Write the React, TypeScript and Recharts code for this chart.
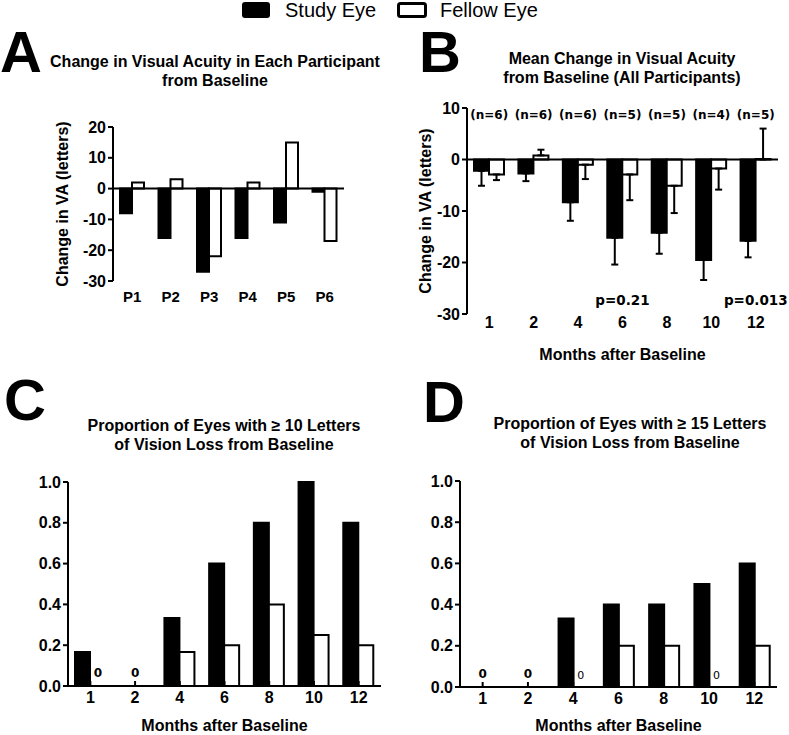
import { Bar, BarChart, ErrorBar, ReferenceLine, XAxis, YAxis } from "recharts";

const SERIES = ["Study Eye", "Fellow Eye"];

// panel A: each participant
const participants = ["P1", "P2", "P3", "P4", "P5", "P6"];
const participantStudy = [-8, -16, -27, -16, -11, -1];
const participantFellow = [2, 3, -22, 2, 15, -17];
const participantTicks = [-30, -20, -10, 0, 10, 20];

// panel B: mean change, one-sided SEM bars
const months = ["1", "2", "4", "6", "8", "10", "12"];
const nPerMonth = [6, 6, 6, 5, 5, 4, 5];
const meanStudy = [-2.2, -2.7, -8.3, -15.2, -14.2, -19.5, -15.8];
const meanStudyErr = [2.9, 1.5, 3.6, 5.2, 4.1, 3.9, 3.2];
const meanFellow = [-2.9, 0.8, -1.0, -2.9, -5.1, -1.75, 0];
const meanFellowErr = [1.1, 1.1, 2.8, 5.0, 5.3, 4.1, 6.0];
const pValues = ["", "", "", "p=0.21", "", "", "p=0.013"];
const meanTicks = [-30, -20, -10, 0, 10];

// panels C and D: proportions
const loss10Study = [0.167, 0, 0.333, 0.6, 0.8, 1.0, 0.8];
const loss10Fellow = [0, 0, 0.167, 0.2, 0.4, 0.25, 0.2];
const loss15Study = [0, 0, 0.333, 0.4, 0.4, 0.5, 0.6];
const loss15Fellow = [0, 0, 0, 0.2, 0.2, 0, 0.2];
const propTicks = [0, 0.2, 0.4, 0.6, 0.8, 1.0];

const BAR = 15;
const FONT = '"Liberation Sans", Arial, Helvetica, sans-serif';
const SMALL_FONT = '"DejaVu Sans", Verdana, sans-serif';
const tickStyle = { fill: "#000", fontSize: 16, fontWeight: 700, fontFamily: FONT };
const line = { stroke: "#000", strokeWidth: 2 };
const axisTitle = { fill: "#000", fontSize: 16, fontWeight: 700, fontFamily: FONT };

const yLabel = (offset: number) => ({
  value: "Change in VA (letters)",
  angle: -90,
  position: "insideLeft" as const,
  offset,
  ...axisTitle,
  style: { textAnchor: "middle" },
});

const monthsLabel = (offset: number) => ({
  value: "Months after Baseline",
  position: "insideBottom" as const,
  offset,
  ...axisTitle,
});

function PanelA() {
  const data = participants.map((p, i) => ({
    p,
    study: participantStudy[i],
    fellow: participantFellow[i],
  }));
  return (
    <div style={{ position: "absolute", left: 0, top: 100 }}>
      <BarChart
        width={360}
        height={215}
        data={data}
        margin={{ top: 27, right: 16, bottom: 0, left: 40 }}
        barGap={0}
        barSize={12}
      >
        <XAxis
          dataKey="p"
          height={34}
          axisLine={false}
          tickLine={false}
          tickSize={0}
          tickMargin={10}
          interval={0}
          tick={{ ...tickStyle, fontSize: 15 }}
        />
        <YAxis
          type="number"
          domain={[-30, 20]}
          ticks={participantTicks}
          interval={0}
          width={73}
          axisLine={line}
          tickLine={line}
          tickSize={5}
          tickMargin={2}
          tick={tickStyle}
          label={yLabel(22)}
        />
        <Bar dataKey="study" fill="#000" stroke="#000" strokeWidth={2} isAnimationActive={false} />
        <Bar dataKey="fellow" fill="#fff" stroke="#000" strokeWidth={2} isAnimationActive={false} />
        <ReferenceLine y={0} stroke="#000" strokeWidth={2} />
      </BarChart>
    </div>
  );
}

function NTick(props: any) {
  const { x, y, index } = props;
  return (
    <text x={x} y={y + 11} textAnchor="middle" fontFamily={SMALL_FONT} fontWeight={700} fontSize={12} fill="#000">
      {`(n=${nPerMonth[index]})`}
    </text>
  );
}

function MonthTick(props: any) {
  const { x, y, index, payload } = props;
  return (
    <g>
      {pValues[index] ? (
        <text x={x} y={y - 9} textAnchor="middle" fontFamily={SMALL_FONT} fontWeight={700} fontSize={13.5} fill="#000">
          {pValues[index]}
        </text>
      ) : null}
      <text x={x} y={y + 14} textAnchor="middle" {...tickStyle}>
        {payload.value}
      </text>
    </g>
  );
}

function PanelB() {
  const data = months.map((month, i) => ({
    month,
    study: meanStudy[i],
    fellow: meanFellow[i],
    studyErr: meanStudy[i] < 0 ? [meanStudyErr[i], 0] : [0, meanStudyErr[i]],
    fellowErr: meanFellow[i] < 0 ? [meanFellowErr[i], 0] : [0, meanFellowErr[i]],
  }));
  return (
    <div style={{ position: "absolute", left: 390, top: 90 }}>
      <BarChart
        width={399}
        height={275}
        data={data}
        margin={{ top: 0, right: 11, bottom: 0, left: 20 }}
        barGap={0}
        barSize={BAR}
      >
        <XAxis
          xAxisId="n"
          orientation="top"
          dataKey="month"
          height={18}
          axisLine={false}
          tickLine={false}
          tickSize={0}
          tickMargin={0}
          interval={0}
          tick={(p: any) => <NTick {...p} />}
        />
        <XAxis
          dataKey="month"
          height={51}
          axisLine={false}
          tickLine={false}
          tickSize={0}
          tickMargin={0}
          interval={0}
          tick={(p: any) => <MonthTick {...p} />}
          label={monthsLabel(5)}
        />
        <YAxis
          type="number"
          domain={[-30, 10]}
          ticks={meanTicks}
          interval={0}
          width={57}
          axisLine={line}
          tickLine={line}
          tickSize={5}
          tickMargin={2}
          tick={tickStyle}
          label={yLabel(15)}
        />
        <Bar dataKey="study" fill="#000" stroke="#000" strokeWidth={2} isAnimationActive={false}>
          <ErrorBar dataKey="studyErr" width={3.5} stroke="#000" strokeWidth={2} isAnimationActive={false} />
        </Bar>
        {/* minPointSize keeps the zero-mean bar at month 12 so its error bar is still drawn */}
        <Bar dataKey="fellow" fill="#fff" stroke="#000" strokeWidth={2} minPointSize={0.5} isAnimationActive={false}>
          <ErrorBar dataKey="fellowErr" width={3.5} stroke="#000" strokeWidth={2} isAnimationActive={false} />
        </Bar>
        <ReferenceLine y={0} stroke="#000" strokeWidth={2} />
      </BarChart>
    </div>
  );
}

type PropPanelProps = {
  left: number;
  top: number;
  width: number;
  marginLeft: number;
  marginTop: number;
  marginRight: number;
  yWidth: number;
  xHeight: number;
  labelOffset: number;
  study: number[];
  fellow: number[];
  thinFellowZero?: boolean;
};

function ProportionPanel(p: PropPanelProps) {
  const data = months.map((month, i) => ({ month, study: p.study[i], fellow: p.fellow[i] }));

  // month label + the "0" markers for empty bars (zero-height bars get no label from LabelList)
  const ZeroTick = (props: any) => {
    const { x, y, index, payload } = props;
    const s = p.study[index];
    const f = p.fellow[index];
    let zero = null;
    if (s === 0 && f === 0) {
      zero = (
        <text x={x} y={y - 15} textAnchor="middle" fontFamily={SMALL_FONT} fontWeight={700} fontSize={12} fill="#000">
          0
        </text>
      );
    } else if (f === 0) {
      zero = (
        <text
          x={x + BAR / 2}
          y={y - (p.thinFellowZero ? 14 : 15)}
          textAnchor="middle"
          fontFamily={SMALL_FONT}
          fontWeight={p.thinFellowZero ? 400 : 700}
          fontSize={p.thinFellowZero ? 11 : 12}
          fill="#000"
        >
          0
        </text>
      );
    }
    return (
      <g>
        {zero}
        <text x={x} y={y + 11} textAnchor="middle" {...tickStyle}>
          {payload.value}
        </text>
      </g>
    );
  };

  return (
    <div style={{ position: "absolute", left: p.left, top: p.top }}>
      <BarChart
        width={p.width}
        height={270}
        data={data}
        margin={{ top: p.marginTop, right: p.marginRight, bottom: 0, left: p.marginLeft }}
        barGap={0}
        barSize={BAR}
      >
        <XAxis
          dataKey="month"
          height={p.xHeight}
          axisLine={line}
          tickLine={line}
          tickSize={-5}
          tickMargin={11}
          interval={0}
          tick={(t: any) => <ZeroTick {...t} />}
          label={monthsLabel(p.labelOffset)}
        />
        <YAxis
          type="number"
          domain={[0, 1]}
          ticks={propTicks}
          interval={0}
          width={p.yWidth}
          axisLine={line}
          tickLine={line}
          tickSize={5}
          tickMargin={2}
          tick={tickStyle}
          tickFormatter={(v: number) => v.toFixed(1)}
        />
        <Bar dataKey="study" fill="#000" stroke="#000" strokeWidth={2} isAnimationActive={false} />
        <Bar dataKey="fellow" fill="#fff" stroke="#000" strokeWidth={2} isAnimationActive={false} />
      </BarChart>
    </div>
  );
}

function Title({ x, y, lines }: { x: number; y: number; lines: string[] }) {
  return (
    <text x={x} y={y} textAnchor="middle" fontFamily={FONT} fontWeight={700} fontSize={16} fill="#000">
      {lines.map((l, i) => (
        <tspan key={i} x={x} dy={i === 0 ? 0 : 19}>
          {l}
        </tspan>
      ))}
    </text>
  );
}

function Overlay() {
  const letter = { fontFamily: FONT, fontWeight: 700, fontSize: 58, fill: "#000" };
  return (
    <svg width={789} height={735} style={{ position: "absolute", left: 0, top: 0, pointerEvents: "none" }}>
      <rect x={242} y={2} width={28} height={16} rx={3} fill="#000" />
      <text x={285} y={17} fontFamily={FONT} fontSize={20} fill="#000">
        {SERIES[0]}
      </text>
      <rect x={398.5} y={3.5} width={27} height={13} rx={2} fill="#fff" stroke="#000" strokeWidth={3} />
      <text x={440} y={17} fontFamily={FONT} fontSize={20} fill="#000">
        {SERIES[1]}
      </text>

      <text x={0} y={72} {...letter}>A</text>
      <text x={419} y={72} {...letter}>B</text>
      <text x={4} y={420} {...letter}>C</text>
      <text x={423} y={422} {...letter}>D</text>

      <Title x={215} y={67} lines={["Change in Visual Acuity in Each Participant", "from Baseline"]} />
      <Title x={622} y={64} lines={["Mean Change in Visual Acuity", "from Baseline (All Participants)"]} />
      <Title x={224} y={431} lines={["Proportion of Eyes with \u2265 10 Letters", "of Vision Loss from Baseline"]} />
      <Title x={630} y={429} lines={["Proportion of Eyes with \u2265 15 Letters", "of Vision Loss from Baseline"]} />
    </svg>
  );
}

export default function App() {
  return (
    <div style={{ position: "absolute", left: 0, top: 0, width: 789, height: 735, background: "#fff", overflow: "hidden" }}>
      <PanelA />
      <PanelB />
      <ProportionPanel
        left={0}
        top={465}
        width={395}
        marginLeft={0}
        marginTop={17}
        marginRight={14}
        yWidth={68}
        xHeight={49}
        labelOffset={4}
        study={loss10Study}
        fellow={loss10Fellow}
      />
      <ProportionPanel
        left={390}
        top={465}
        width={399}
        marginLeft={10}
        marginTop={16}
        marginRight={12}
        yWidth={60}
        xHeight={48}
        labelOffset={4}
        study={loss15Study}
        fellow={loss15Fellow}
        thinFellowZero
      />
      <Overlay />
    </div>
  );
}
